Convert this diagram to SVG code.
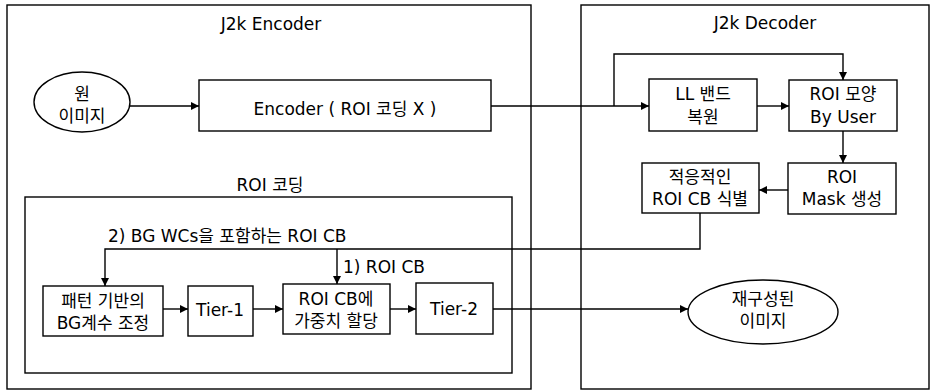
<svg xmlns="http://www.w3.org/2000/svg" width="931" height="390" viewBox="0 0 931 390">
<defs>
<marker id="ah" viewBox="0 0 10 10" refX="10" refY="5" markerWidth="8" markerHeight="8" markerUnits="userSpaceOnUse" orient="auto">
<path d="M0,0 L10,5 L0,10 z" fill="#000"/>
</marker>
</defs>
<style>
.box{fill:#fff;stroke:#000;stroke-width:1.4}
.frame{fill:none;stroke:#000;stroke-width:1.4}
.c{fill:none;stroke:#000;stroke-width:1.4}
.a{fill:none;stroke:#000;stroke-width:1.4;marker-end:url(#ah)}
text{font-family:"DejaVu Sans","Noto Sans CJK KR",sans-serif;font-size:17px;fill:#000;text-anchor:middle}
.l{text-anchor:start}
</style>
<g id="encoder-frame">
<rect class="frame" x="7" y="5" width="524" height="384"/>
<text x="271" y="30">J2k Encoder</text>
</g>
<g id="decoder-frame">
<rect class="frame" x="581" y="5" width="348" height="384"/>
<text x="765" y="29">J2k Decoder</text>
</g>
<g id="roi-coding-frame">
<rect class="frame" x="25" y="197" width="487" height="176"/>
<text x="270" y="191">ROI 코딩</text>
</g>
<g id="connectors">
<path class="a" d="M130,106 L199,106"/>
<path class="a" d="M491,106 L649,106"/>
<path class="a" d="M614,106 L614,54 L843,54 L843,80"/>
<path class="a" d="M757,106 L789,106"/>
<path class="a" d="M843,131 L843,163"/>
<path class="a" d="M788,190 L759,190"/>
<path class="a" d="M700,213 L700,249 L105,249 L105,286"/>
<path class="a" d="M337,249 L337,284"/>
<path class="a" d="M163,309 L188,309"/>
<path class="a" d="M253,309 L283,309"/>
<path class="a" d="M390,309 L416,309"/>
<path class="a" d="M493,309 L688,309"/>
<text class="l" x="108" y="242">2) BG WCs을 포함하는 ROI CB</text>
<text class="l" x="343" y="273">1) ROI CB</text>
</g>
<g id="source-image">
<ellipse class="box" cx="82" cy="102" rx="48" ry="30"/>
<text x="82" y="100">원</text>
<text x="82" y="122">이미지</text>
</g>
<g id="encoder">
<rect class="box" x="199" y="80" width="292" height="51"/>
<text x="345" y="115">Encoder ( ROI 코딩 X )</text>
</g>
<g id="ll-band">
<rect class="box" x="649" y="79" width="108" height="52"/>
<text x="703" y="100">LL 밴드</text>
<text x="703" y="123">복원</text>
</g>
<g id="roi-shape">
<rect class="box" x="789" y="80" width="108" height="51"/>
<text x="843" y="100">ROI 모양</text>
<text x="843" y="123">By User</text>
</g>
<g id="roi-mask">
<rect class="box" x="788" y="163" width="108" height="51"/>
<text x="842" y="183">ROI</text>
<text x="842" y="205">Mask 생성</text>
</g>
<g id="adaptive-roi-cb">
<rect class="box" x="642" y="163" width="117" height="50"/>
<text x="700" y="183">적응적인</text>
<text x="700" y="205">ROI CB 식별</text>
</g>
<g id="pattern-bg">
<rect class="box" x="43" y="286" width="120" height="50"/>
<text x="103" y="307">패턴 기반의</text>
<text x="103" y="329">BG계수 조정</text>
</g>
<g id="tier1">
<rect class="box" x="188" y="286" width="65" height="50"/>
<text x="220" y="316">Tier-1</text>
</g>
<g id="roi-cb-weight">
<rect class="box" x="283" y="284" width="107" height="50"/>
<text x="336" y="305">ROI CB에</text>
<text x="336" y="327">가중치 할당</text>
</g>
<g id="tier2">
<rect class="box" x="416" y="283" width="77" height="51"/>
<text x="454" y="315">Tier-2</text>
</g>
<g id="reconstructed-image">
<ellipse class="box" cx="763" cy="312" rx="75" ry="32"/>
<text x="763" y="305">재구성된</text>
<text x="763" y="327">이미지</text>
</g>
</svg>
